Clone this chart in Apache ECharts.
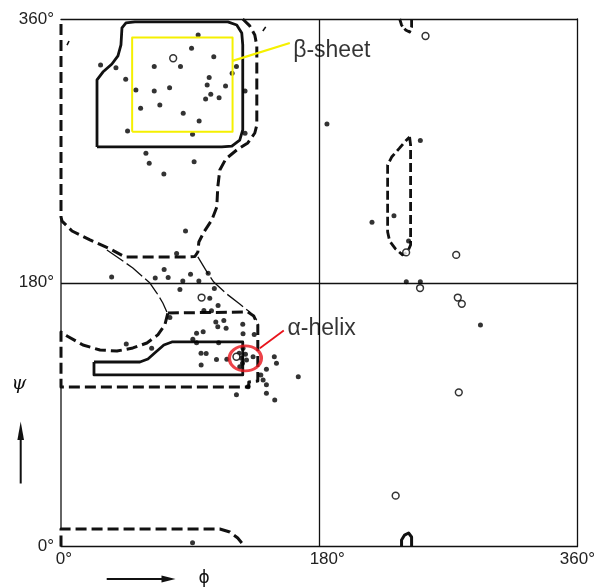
<!DOCTYPE html>
<html><head><meta charset="utf-8">
<script src="https://cdn.jsdelivr.net/npm/echarts@6/dist/echarts.min.js"></script>
<style>html,body{margin:0;padding:0;background:#fff}#c{width:598px;height:587px}</style>
</head><body><div id="c"></div>
<script>
// ---- axis ticks (degrees) ----
const phiTicks = [0, 180, 360];
const psiTicks = [0, 180, 360];

// ---- observed residues [phi, psi] ----
const filledDots = [
  [95.6,349.1],[91.0,340.0],[106.5,334.3],[65.0,327.5],[83.3,327.5],[27.6,328.6],[38.3,326.8],
  [122.3,327.5],[119.3,323.0],[45.1,318.9],[103.3,320.0],[101.9,315.0],[114.7,314.3],[52.2,311.6],
  [65.0,310.9],[75.7,313.1],[104.4,308.6],[100.8,305.4],[110.2,306.3],[128.3,310.9],[55.5,299.1],
  [68.9,301.3],[85.2,295.7],[96.3,290.4],[46.4,283.6],[91.7,281.3],[128.3,282.0],[59.2,268.4],
  [61.5,261.5],[92.8,262.6],[71.7,254.2],[86.8,215.3],[80.6,200.0],
  [35.3,183.9],[71.9,189.1],[65.7,183.3],[74.7,183.6],[90.3,185.8],[84.9,181.2],[96.1,181.2],
  [102.6,186.5],[82.9,175.4],[106.9,176.1],
  [103.7,169.4],[109.5,164.5],[99.6,161.1],[104.9,160.9],[75.9,156.3],[107.9,153.2],[113.5,154.2],
  [109.3,150.0],[115.1,148.9],[126.7,151.7],[94.5,145.5],[99.1,146.6],[126.9,145.2],[134.7,144.6],
  [45.5,138.2],[63.2,135.3],[91.9,141.4],[94.5,139.1],[109.9,139.1],[97.6,131.9],[101.2,131.7],
  [108.4,127.6],[115.6,127.8],[97.7,123.9],
  [126.9,135.3],[124.2,131.9],[128.6,131.2],[125.8,128.4],[129.3,127.3],[126.5,125.0],[124.6,122.7],
  [133.9,129.5],
  [143.2,120.9],[148.7,129.5],[150.2,125.0],[140.9,113.6],[143.2,110.4],[130.4,109.1],[143.2,104.6],
  [122.3,103.6],[149.0,100.0],[165.4,115.9],[139.3,117.1],
  [185.4,288.4],[250.5,277.0],[216.8,221.3],[232.1,225.8],[242.3,208.5],[240.7,180.7],[250.5,180.7],
  [292.4,151.2],[91.7,2.6]
];
const openCircles = [
  [78.2,333.2],[98.0,169.9],[122.3,129.5],[254.1,348.4],[240.6,200.7],[275.5,199.0],
  [250.3,176.4],[276.6,169.9],[279.4,165.6],[277.3,105.2],[233.3,34.7]
];

// ---- allowed-region contours [phi, psi] ----
const solidBeta = [
  [25.1,272.7],[25.1,318.4],[29.2,323.8],[35.5,329.3],[39.7,334.8],[41.8,342.3],[42.5,353.9],
  [45.3,357.3],[51.5,358.0],[116.3,358.0],[122.5,355.9],[126.0,350.5],[126.7,342.3],[126.7,284.3],
  [124.6,277.4],[119.1,273.3],[112.1,272.7],[25.1,272.7]
];
const dashedBeta = [
  [126.7,360.0],[131.6,355.3],[135.1,349.1],[136.5,341.6],[136.5,287.7],[135.1,282.2],[130.2,275.4],
  [122.5,270.6],[114.9,264.5],[110.7,257.0],[109.3,245.4],[108.6,231.7],[105.1,222.8],[99.6,214.6],
  [96.1,207.8],[95.4,201.0],[93.3,197.9],[88.4,197.6],[44.6,197.6],[34.1,203.1],[20.2,209.2],
  [7.7,215.3],[0.7,222.1],[0,224.9],[0,360]
];
const solidAlpha = [
  [23.0,125.9],[55.0,125.9],[60.6,128.0],[66.1,132.7],[71.7,137.5],[77.3,139.6],[126.7,139.6],
  [126.7,117.1],[23.0,117.1],[23.0,125.9]
];
const dashedAlpha = [
  [74.5,159.4],[130.2,160.0],[134.4,157.3],[137.2,151.2],[137.2,112.9],[130.9,112.3],[130.9,108.9],
  [0,108.9],[0,146.4],[4.2,143.7],[15.3,137.5],[27.2,134.1],[39.0,133.4],[50.1,135.5],[59.9,138.9],
  [67.5,144.4],[72.4,151.2],[74.5,159.4]
];
const thinBridgeA = [[32.0,202.4],[50.1,190.1],[62.0,179.8],[66.8,173.0],[71.0,166.2],[73.8,160.0]];
const thinBridgeB = [[95.4,197.6],[101.7,187.4],[106.5,180.5],[115.6,172.3],[124.6,165.5],[131.6,160.0],[136.5,154.5]];
const dashedRight = [
  [243.0,279.5],[243.7,274.0],[243.7,205.8],[241.6,201.0],[238.1,199.0],[233.3,203.0],[229.1,208.5],
  [227.7,214.6],[227.7,260.4],[230.5,265.8],[236.1,272.0],[240.2,276.8],[243.0,279.5]
];
const dashedTopRight = [[236.1,360.0],[237.4,355.9],[240.2,352.5],[243.0,351.1],[244.4,354.6],[244.4,360.0]];
const solidBottomRight = [[237.4,0],[237.4,4.4],[239.5,7.8],[242.3,9.2],[244.4,6.5],[244.4,0]];
const dashedBottomLeft = [[0,0],[0,11.9],[110.7,11.9],[117.7,9.9],[123.2,5.8],[128.1,0]];
const strayMarks = [[[4.2,342.2],[5.6,345.0]],[[140.7,351.8],[142.7,354.6]]];
const leftFrame = [[[0,11.9],[0,108.9]],[[0,146.4],[0,224.9]]];

// ---- annotations [phi, psi] ----
const betaBox = [[49.6,283.1],[119.6,347.3]];
const betaPointer = [[119.6,331.4],[159.5,343.6]];
const betaLabel = [161.5,338.7];
const alphaMark = [128.5,128.4];
const alphaPointer = [[138.6,135.3],[155.3,147.4]];
const alphaLabel = [157.6,148.7];

const INK = '#111';
function line(data, width, type, color, z) {
  return {type:'line', data, symbol:'none', showSymbol:false, silent:true, animation:false, z:z||2,
    lineStyle:{width, type, color:color||INK, cap:'butt', join:'round'}};
}
const DASH = [11,5];
const boxPath = [betaBox[0],[betaBox[1][0],betaBox[0][1]],betaBox[1],[betaBox[0][0],betaBox[1][1]],betaBox[0]];

const series = [
  line(solidBeta, 2.8, 'solid'),
  line(dashedBeta, 3, DASH),
  line(solidAlpha, 2.8, 'solid'),
  line(dashedAlpha, 3, DASH),
  line(thinBridgeA, 1.3, [20,4]),
  line(thinBridgeB, 1.3, [20,4]),
  line(dashedRight, 2.8, [9,4]),
  line(dashedTopRight, 2.8, [8,3]),
  line(solidBottomRight, 3, 'solid'),
  line(dashedBottomLeft, 3, DASH),
  ...strayMarks.map(s => line(s, 1.6, 'solid')),
  ...leftFrame.map(s => line(s, 1.3, 'solid')),
  {type:'scatter', data:filledDots, symbol:'circle', symbolSize:5, itemStyle:{color:'#000'}, silent:true, animation:false, z:4},
  {type:'scatter', data:openCircles, symbol:'circle', symbolSize:6.8, itemStyle:{color:'#fff', borderColor:'#000', borderWidth:1.5}, silent:true, animation:false, z:5},
  line(boxPath, 2, 'solid', '#F5F000', 6),
  line(betaPointer, 2.2, 'solid', '#F5F000', 6),
  {type:'scatter', data:[alphaMark], symbol:'circle', symbolSize:[32,25], itemStyle:{color:'rgba(0,0,0,0)', borderColor:'#E8141C', borderWidth:3}, silent:true, animation:false, z:7},
  line(alphaPointer, 1.8, 'solid', '#E8141C', 7),
  {type:'scatter', symbolSize:1, itemStyle:{color:'rgba(0,0,0,0)'}, silent:true, animation:false, z:8,
   data:[{value:betaLabel, name:'β-sheet'},{value:alphaLabel, name:'α-helix'}],
   label:{show:true, position:'right', distance:0, formatter:'{b}', fontFamily:'Liberation Sans', fontSize:23, color:'#000'}}
];

const labStyle = {fontFamily:'Liberation Sans', fontSize:17, color:'#222'};
const chart = echarts.init(document.getElementById('c'), null, {renderer:'canvas'});
chart.setOption({
  animation:false,
  backgroundColor:'#fff',
  grid:{left:61, right:20, top:19, bottom:40.5, containLabel:false},
  xAxis:[
    {type:'value', min:phiTicks[0], max:phiTicks[phiTicks.length-1], interval:phiTicks[1]-phiTicks[0], position:'bottom',
     axisLine:{show:true, onZero:false, lineStyle:{color:INK, width:1.3}}, axisTick:{show:false},
     axisLabel:Object.assign({margin:4, formatter:v => v===0 ? '{a|0°}' : (v===180 ? '{b|180°}' : '{c|360°}'),
       rich:{a:Object.assign({padding:[0,0,0,6]},labStyle), b:Object.assign({padding:[0,0,0,16]},labStyle), c:Object.assign({},labStyle)}}, labStyle),
     splitLine:{show:true, showMinLine:false, showMaxLine:false, lineStyle:{color:INK, width:1.3}}},
    {type:'value', min:0, max:360, position:'top', axisLine:{show:true, onZero:false, lineStyle:{color:INK, width:1.3}},
     axisTick:{show:false}, axisLabel:{show:false}, splitLine:{show:false}}
  ],
  yAxis:[
    {type:'value', min:psiTicks[0], max:psiTicks[psiTicks.length-1], interval:psiTicks[1]-psiTicks[0], position:'left',
     axisLine:{show:false}, axisTick:{show:false},
     axisLabel:Object.assign({margin:7, formatter:v => v+'°'}, labStyle),
     splitLine:{show:true, showMinLine:false, showMaxLine:false, lineStyle:{color:INK, width:1.3}}},
    {type:'value', min:0, max:360, position:'right', axisLine:{show:true, onZero:false, lineStyle:{color:INK, width:1.3}},
     axisTick:{show:false}, axisLabel:{show:false}, splitLine:{show:false}}
  ],
  graphic:[
    {type:'text', x:19, y:384, style:{text:'ψ', font:'italic 19px "DejaVu Serif"', fill:INK, align:'center', verticalAlign:'middle', textAlign:'center', textVerticalAlign:'middle'}},
    {type:'line', shape:{x1:20.7, y1:483.5, x2:20.7, y2:432}, style:{stroke:INK, lineWidth:2}},
    {type:'polygon', shape:{points:[[20.7,421.5],[17.4,440],[24,440]]}, style:{fill:INK}},
    {type:'text', x:204, y:579, style:{text:'ϕ', font:'17px "DejaVu Sans"', fill:INK, align:'center', verticalAlign:'middle', textAlign:'center', textVerticalAlign:'middle'}},
    {type:'line', shape:{x1:106.7, y1:579, x2:165, y2:579}, style:{stroke:INK, lineWidth:2}},
    {type:'polygon', shape:{points:[[175.5,579],[161.5,575.5],[161.5,582.5]]}, style:{fill:INK}}
  ],
  series
});
</script></body></html>
